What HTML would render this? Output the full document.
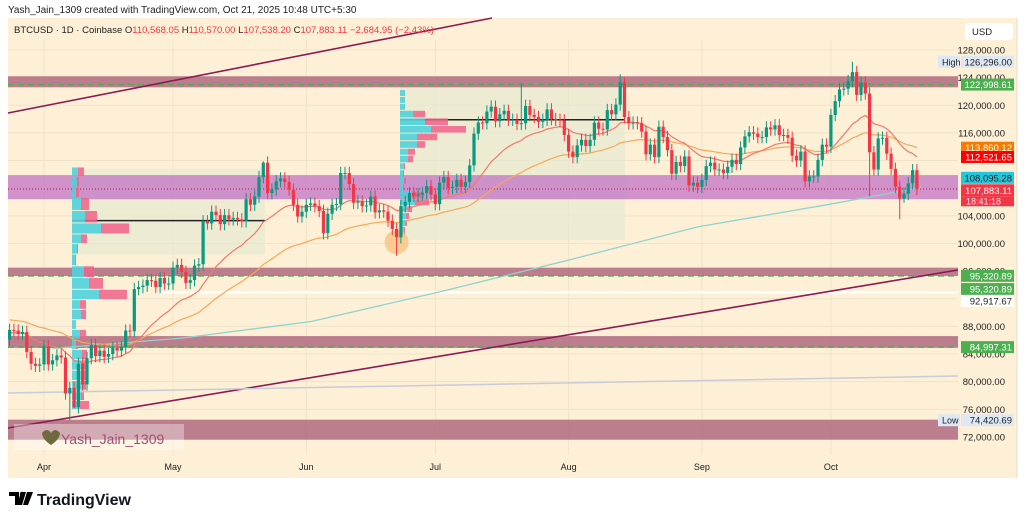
<!DOCTYPE html>
<html><head><meta charset="utf-8">
<style>
html,body{margin:0;padding:0;background:#fff;width:1024px;height:521px;overflow:hidden;font-family:"Liberation Sans",sans-serif}
svg text{font-family:"Liberation Sans",sans-serif}
</style></head>
<body>
<svg id="chart" width="1024" height="521" viewBox="0 0 1024 521" xmlns="http://www.w3.org/2000/svg">
<rect x="0" y="0" width="1024" height="521" fill="#fff"/>
<text x="8" y="13" font-size="10" fill="#222">Yash_Jain_1309 created with TradingView.com, Oct 21, 2025 10:48 UTC+5:30</text>
<rect x="8" y="18" width="1009" height="460" fill="#fdf0d6"/>
<g id="grid"></g>
<g id="zones"></g>
<g id="profiles"></g>
<g id="lines"></g>
<g id="candles"></g>
<g id="axis"></g>
<g id="timeaxis"></g>
<text x="14" y="33" font-size="9.5" fill="#222">BTCUSD · 1D · Coinbase  <tspan fill="#222">O</tspan><tspan fill="#f23645">110,568.05</tspan> <tspan fill="#222">H</tspan><tspan fill="#f23645">110,570.00</tspan> <tspan fill="#222">L</tspan><tspan fill="#f23645">107,538.20</tspan> <tspan fill="#222">C</tspan><tspan fill="#f23645">107,883.11</tspan> <tspan fill="#f23645"> −2,684.95 (−2.43%)</tspan></text>
<g>
<rect x="14" y="424" width="170" height="26" fill="#fff" opacity="0.35"/>
<path d="M42 433 q5 -6 9 0 q4 -6 9 0 q0 6 -9 12 q-9 -6 -9 -12z" fill="#6d6a3d"/>
<text x="61" y="444" font-size="14" fill="#a0506e">Yash_Jain_1309</text>
</g>
<g>
<path d="M9 492 h10 v13 h-4 v-9 h-6z M21 492 h5 l-4 13 h-5z M27 492 h6 l-5 13 h-5z" fill="#000"/>
<circle cx="22" cy="494" r="2.2" fill="#000"/>
<text x="37" y="505" font-size="16" font-weight="bold" fill="#131722">TradingView</text>
</g>
</svg>
<script>
const dates0 = "2025-03-24";
const closes = [87.5,87.4,86.9,87.2,84.3,82.6,82.3,82.5,
85.1,82.5,83.1,83.8,83.5,78.3,79.1,76.3,82.6,79.6,83.4,85.3,83.7,84.5,83.6,84.0,84.9,84.5,85.0,87.4,87.3,93.4,93.7,93.9,94.7,94.6,93.7,95.0,94.2,94.2,
96.5,96.9,95.9,94.3,94.7,96.8,97.0,103.2,102.9,104.6,104.1,102.8,104.1,103.5,103.7,103.5,103.2,106.4,105.6,106.8,109.6,111.7,107.3,107.8,109.0,109.4,108.9,107.8,105.6,103.9,104.6,
105.6,105.8,105.4,104.7,101.5,104.3,105.6,105.7,110.2,110.2,108.6,105.9,106.1,105.4,105.5,106.8,104.5,104.8,104.6,103.3,102.1,100.9,105.4,106.0,107.3,106.9,107.1,107.3,108.3,107.1,
105.7,108.8,109.6,108.0,108.2,109.2,108.2,108.9,111.3,115.9,117.5,117.4,119.1,119.8,117.7,118.7,119.2,117.9,117.9,117.3,117.4,119.9,118.6,118.3,117.6,117.9,119.4,118.0,117.9,117.8,115.7,
113.3,112.5,114.2,115.0,114.1,115.0,117.5,116.6,116.5,119.3,118.7,120.1,123.3,118.3,117.4,117.5,117.4,116.2,112.9,114.3,112.5,116.9,115.4,113.5,110.1,111.8,111.2,112.6,108.4,108.8,108.2,
109.2,111.2,111.7,110.7,110.7,110.2,111.1,112.1,111.5,113.9,115.5,116.1,115.9,115.4,115.4,116.8,116.5,117.1,115.7,115.7,115.3,112.7,112.0,113.3,109.0,109.7,109.7,112.1,114.3,114.0,
118.6,120.6,122.3,122.4,123.5,124.8,121.5,123.3,121.7,113.2,110.7,115.2,115.3,113.0,110.8,108.2,106.5,107.2,108.7,110.6,107.9];
const firstOpen = 86.1;
const wickUp = 0.9, wickDn = 0.9;
const extremeIdx = [14,15,29,59,90,110,119,142,143,161,196,200,207,208];
const extremeHi =  [null,null,null,111.9,null,null,123.2,124.5,124.0,null,126.3,null,null,null];
const extremeLo =  [74.4,76.2,null,null,98.2,null,null,null,null,107.3,null,106.8,103.5,105.9];
const ma200Days = [10,40,70,100,130,160,190,212];
const ma200Vals = [84.8,86.3,88.7,93.0,97.6,102.4,105.6,108.1];
const priceTicks = [128,124,120,116,104,100,96,88,84,80,76,72];
const monthLabels = ["Apr","May","Jun","Jul","Aug","Sep","Oct"];
const monthDays = [8,38,69,99,130,161,191];
const prof1Top = [111.0,109.6,108.1,106.6,104.7,102.9,101.3,99.9,98.4,96.7,95.0,93.3,91.8,90.4,88.9,87.5,86.1,84.6,83.1,81.6,80.1,78.7,77.2];
const prof1Cyan = [6,5,4,9,13,29,9,5,3,12,17,27,8,9,4,8,4,10,12,10,11,9,8];
const prof1Pink = [6,2,3,8,12,28,6,1,1,10,14,28,6,5,0,6,2,5,4,4,3,3,9];
const prof2Top = [122.2,121.2,120.2,119.2,118.1,117.0,115.9,114.8,113.7,112.7,111.6,110.6,109.5,108.5,107.5,106.4,105.4,104.4,103.4,102.4];
const prof2Cyan = [5,5,5,13,25,31,17,17,8,8,4,3,4,3,12,15,8,6,5,4];
const prof2Pink = [0,0,0,12,23,35,20,8,7,5,1,1,2,1,12,14,4,3,2,1];

const NS="http://www.w3.org/2000/svg";
const X=i=>9.6+i*4.3;
const Y=p=>50+(128-p)*6.91;
function mk(parent,tag,attrs){const e=document.createElementNS(NS,tag);for(const k in attrs)e.setAttribute(k,attrs[k]);document.getElementById(parent).appendChild(e);return e;}

priceTicks.concat([108,112,92]).forEach(p=>{const l=mk('grid','line',{x1:8,x2:958,y1:Y(p),y2:Y(p),stroke:'#efe3c8','stroke-width':1});

});
monthDays.forEach(d=>{const l=mk('grid','line',{x1:X(d),x2:X(d),y1:40,y2:455,stroke:'#efe3c8','stroke-width':1});

});

function zone(p1,p2,fill,op,name,x1=8,x2=958){const r=mk('zones','rect',{x:x1,y:Y(p1),width:x2-x1,height:Y(p2)-Y(p1),fill:fill,opacity:op});

return r;}
zone(110.8,98.4,'#e6ead0',0.7,'profile-range-1',72,265);
zone(124.2,100.5,'#e6ead0',0.7,'profile-range-2',400,625);
zone(124.2,122.6,'#b06a80',0.85,'resistance-zone');
zone(109.9,106.4,'#c173c6',0.75,'pivot-zone');
zone(96.5,95.3,'#b06a80',0.85,'support-zone-1');
zone(86.6,84.9,'#b06a80',0.85,'support-zone-2');
zone(74.5,71.6,'#b06a80',0.85,'bottom-zone');
function hline(p,stroke,dash,w,name,x1=8,x2=958){const l=mk('zones','line',{x1:x1,x2:x2,y1:Y(p),y2:Y(p),stroke:stroke,'stroke-width':w,'stroke-dasharray':dash});

}
hline(123.0,'#4caf50','6 4',1.5,'level-122998');
hline(95.32,'#4caf50','6 4',1.5,'level-95320');
hline(85.0,'#4caf50','6 4',1.5,'level-84997');
hline(107.88,'#c2185b','1 2',1,'last-price-line');
hline(92.92,'#ffffff','',2.5,'level-92917',155,958);

function profile(tops,cy,pk,x0,name){for(let i=0;i<tops.length;i++){const y1=Y(tops[i]);const h=(i<tops.length-1?Y(tops[i+1]):y1+9)-y1-1;
const c=mk('profiles','rect',{x:x0,y:y1,width:cy[i],height:h,fill:'#4fd1dc',opacity:0.9});


const p=mk('profiles','rect',{x:x0+cy[i],y:y1,width:pk[i],height:h,fill:'#f0628a',opacity:0.85});

}}
profile(prof1Top,prof1Cyan,prof1Pink,72,'profile1');
profile(prof2Top,prof2Cyan,prof2Pink,400,'profile2');
hline(103.3,'#222','',1.5,'poc-line-1',72,265);
hline(117.9,'#222','',1.5,'poc-line-2',400,625);

[[8,113,492,18,'upper-trendline'],[8,428,958,270,'lower-trendline']].forEach(t=>{const l=mk('lines','line',{x1:t[0],y1:t[1],x2:t[2],y2:t[3],stroke:'#8b1a55','stroke-width':1.6});

});
{const l=mk('lines','line',{x1:8,y1:393,x2:958,y2:376,stroke:'#c8cbd8','stroke-width':1.5});

}
{const c=mk('lines','circle',{cx:X(90),cy:Y(100.2),r:12,fill:'#f7c27a',opacity:0.75});

}

function ema(n,seed){let e=seed,out=[];closes.forEach(c=>{e=e+(c-e)*2/(n+1);out.push(e);});return out;}
function path(vals,idx){return vals.map((v,k)=>(k?'L':'M')+X(idx?idx[k]:k).toFixed(1)+' '+Y(v).toFixed(1)).join(' ');}
{const p=mk('lines','path',{d:path(ma200Vals,ma200Days),fill:'none',stroke:'#8fd3cf','stroke-width':1.3});

}
{const p=mk('lines','path',{d:path(ema(50,89)),fill:'none',stroke:'#f5a85a','stroke-width':1.2});

}
{const p=mk('lines','path',{d:path(ema(20,87)),fill:'none',stroke:'#ef7a6e','stroke-width':1.2});

}

closes.forEach((c,i)=>{const o=i?closes[i-1]:firstOpen;const up=c>=o;const col=up?'#089981':'#f23645';
let hi=Math.max(o,c)+wickUp, lo=Math.min(o,c)-wickDn;const k=extremeIdx.indexOf(i);
if(k>=0){if(extremeHi[k]!==null)hi=extremeHi[k];if(extremeLo[k]!==null)lo=extremeLo[k];}
const w=mk('candles','line',{x1:X(i),x2:X(i),y1:Y(hi),y2:Y(lo),stroke:col,'stroke-width':1});


const b=mk('candles','rect',{x:X(i)-1.6,y:Y(Math.max(o,c)),width:3.2,height:Math.max(1,Math.abs(Y(o)-Y(c))),fill:col});

});

priceTicks.forEach(p=>{const t=mk('axis','text',{x:1005,y:Y(p)+3.5,'font-size':9.5,fill:'#222','text-anchor':'end'});t.textContent=p.toFixed(0)+',000.00';

});
{const r=mk('axis','rect',{x:965,y:23,width:48,height:17,rx:3,fill:'#fff'});


const t=mk('axis','text',{x:972,y:35,'font-size':9.5,fill:'#222'});t.textContent='USD';

}
const tags=[[126.296,'126,296.00','#dde8f4','#222','High'],[123.0,'122,998.61','#4caf50','#fff'],[113.86,'113,860.12','#f57c00','#fff'],[112.52,'112,521.65','#ff0000','#fff'],[109.5,'108,095.28','#26c6da','#222'],[107.7,'107,883.11','#f23645','#fff'],[95.32,'95,320.89','#4caf50','#fff'],[93.4,'95,320.89','#4caf50','#fff'],[91.7,'92,917.67','#fff','#222'],[85.0,'84,997.31','#4caf50','#fff'],[74.42,'74,420.69','#dde8f4','#222','Low']];
tags.forEach(t=>{const y=Y(t[0]);const r=mk('axis','rect',{x:961,y:y-6,width:53,height:12,fill:t[2]});


const tx=mk('axis','text',{x:1012,y:y+3.5,'font-size':9.5,fill:t[3],'text-anchor':'end'});tx.textContent=t[1];


if(t[4]){const r2=mk('axis','rect',{x:938,y:y-6,width:22,height:12,fill:'#dde8f4'});


const t2=mk('axis','text',{x:942,y:y+3.5,'font-size':9,fill:'#222'});t2.textContent=t[4];

}});
{const r=mk('axis','rect',{x:961,y:Y(107.7)+6,width:53,height:10,fill:'#f23645'});


const t=mk('axis','text',{x:966,y:Y(107.7)+14,'font-size':9,fill:'#fde'});t.textContent='18:41:18';

}
{const l=mk('axis','line',{x1:1017,x2:1017,y1:18,y2:478,stroke:'#e8dcc4'});

}

monthLabels.forEach((m,k)=>{const t=mk('timeaxis','text',{x:X(monthDays[k]),y:470,'font-size':9,fill:'#222','text-anchor':'middle'});t.textContent=m;

});
</script>
</body></html>
